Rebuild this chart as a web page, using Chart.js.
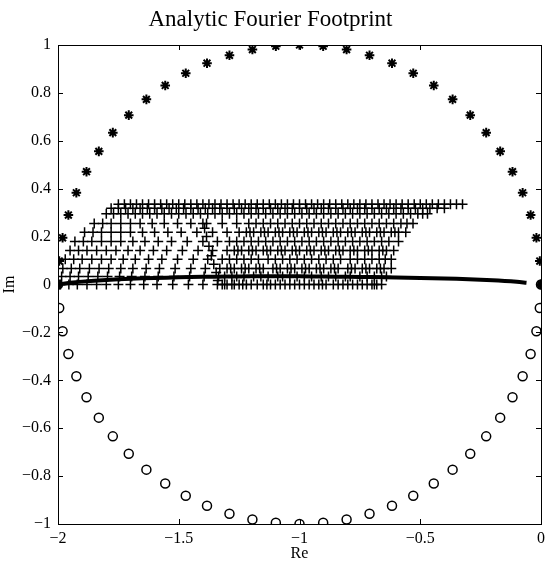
<!DOCTYPE html>
<html>
<head>
<meta charset="utf-8">
<script src="https://cdn.jsdelivr.net/npm/chart.js@4.4.1/dist/chart.umd.min.js"></script>
<style>
html,body{margin:0;padding:0;background:#fff;}
#wrap{width:550px;height:563px;position:relative;}
</style>
</head>
<body>
<div id="wrap"><canvas id="c" width="550" height="563"></canvas></div>
<script>
// ---- data ----
const xTicks = [-2, -1.5, -1, -0.5, 0];
const yTicks = [-1, -0.8, -0.6, -0.4, -0.2, 0, 0.2, 0.4, 0.6, 0.8, 1];

// circle points (upper: asterisks, lower: open circles)
const circleX = [0,-0.005,-0.019,-0.043,-0.076,-0.118,-0.169,-0.227,-0.293,-0.366,-0.444,-0.529,-0.617,-0.710,-0.805,-0.902,-1,
  -1.098,-1.195,-1.290,-1.383,-1.471,-1.556,-1.634,-1.707,-1.773,-1.831,-1.882,-1.924,-1.957,-1.981,-1.995,-2];
const upperY = [0,0.098,0.195,0.290,0.383,0.471,0.556,0.634,0.707,0.773,0.831,0.882,0.924,0.957,0.981,0.995,1,
  0.995,0.981,0.957,0.924,0.882,0.831,0.773,0.707,0.634,0.556,0.471,0.383,0.290,0.195,0.098,0];
const lowerY = [0,-0.098,-0.195,-0.290,-0.383,-0.471,-0.556,-0.634,-0.707,-0.773,-0.831,-0.882,-0.924,-0.957,-0.981,-0.995,-1,
  -0.995,-0.981,-0.957,-0.924,-0.882,-0.831,-0.773,-0.707,-0.634,-0.556,-0.471,-0.383,-0.290,-0.195,-0.098,0];

// end blobs
const endX = [-2, 0];
const endY = [0, 0];

// thick curve near the real axis
const curveX = [-2,-1.95,-1.9,-1.8,-1.7,-1.6,-1.5,-1.4,-1.3,-1.2,-1.1,-1.0,-0.9,-0.8,-0.7,-0.6,-0.5,-0.4,-0.3,-0.2,-0.15,-0.1,-0.06];
const curveY = [0,0.007,0.012,0.019,0.024,0.027,0.030,0.032,0.033,0.034,0.034,0.034,0.033,0.032,0.031,0.029,0.027,0.025,0.022,0.018,0.015,0.011,0.007];

// plus-marker footprint, one list of Re values per Im level
const plusRowY = [0, 0.033, 0.067, 0.105, 0.142, 0.18, 0.218, 0.255, 0.295, 0.318, 0.335];
const plusRowX = [
 [-1.99,-1.955,-1.92,-1.88,-1.84,-1.80,-1.75,-1.70,-1.645,-1.59,-1.525,-1.46,-1.40,-1.34,-1.32,-1.30,-1.28,-1.25,-1.22,-1.20,-1.15,-1.12,-1.10,-1.06,-1.02,-1.00,-0.96,-0.92,-0.89,-0.86,-0.82,-0.78,-0.76,-0.72,-0.70,-0.68,-0.66],
 [-1.985,-1.95,-1.915,-1.875,-1.835,-1.795,-1.745,-1.695,-1.64,-1.585,-1.52,-1.455,-1.395,-1.335,-1.31,-1.28,-1.26,-1.23,-1.19,-1.16,-1.13,-1.09,-1.07,-1.04,-1.01,-0.98,-0.95,-0.91,-0.88,-0.85,-0.81,-0.79,-0.75,-0.72,-0.69,-0.66,-0.64],
 [-1.98,-1.945,-1.91,-1.87,-1.83,-1.79,-1.74,-1.69,-1.635,-1.58,-1.515,-1.45,-1.39,-1.33,-1.30,-1.27,-1.24,-1.21,-1.18,-1.15,-1.11,-1.08,-1.05,-1.02,-0.99,-0.96,-0.93,-0.90,-0.87,-0.84,-0.80,-0.77,-0.74,-0.71,-0.68,-0.65,-0.62],
 [-1.97,-1.935,-1.90,-1.86,-1.82,-1.78,-1.73,-1.68,-1.625,-1.57,-1.505,-1.44,-1.38,-1.32,-1.29,-1.26,-1.23,-1.20,-1.17,-1.13,-1.10,-1.07,-1.04,-1.01,-0.98,-0.95,-0.92,-0.89,-0.86,-0.83,-0.79,-0.76,-0.73,-0.70,-0.67,-0.645,-0.62],
 [-1.95,-1.915,-1.88,-1.84,-1.80,-1.76,-1.71,-1.66,-1.605,-1.55,-1.485,-1.42,-1.36,-1.30,-1.27,-1.24,-1.21,-1.18,-1.15,-1.12,-1.09,-1.06,-1.03,-1.00,-0.97,-0.94,-0.91,-0.88,-0.85,-0.82,-0.79,-0.76,-0.73,-0.70,-0.67,-0.64,-0.61],
 [-1.93,-1.895,-1.86,-1.82,-1.78,-1.74,-1.69,-1.64,-1.585,-1.53,-1.465,-1.40,-1.34,-1.29,-1.26,-1.23,-1.20,-1.17,-1.14,-1.11,-1.08,-1.05,-1.02,-0.99,-0.96,-0.93,-0.90,-0.87,-0.84,-0.81,-0.78,-0.75,-0.72,-0.69,-0.66,-0.63,-0.59],
 [-1.89,-1.855,-1.82,-1.78,-1.74,-1.70,-1.65,-1.60,-1.545,-1.49,-1.425,-1.36,-1.30,-1.25,-1.22,-1.19,-1.16,-1.13,-1.10,-1.07,-1.04,-1.01,-0.98,-0.95,-0.92,-0.89,-0.86,-0.83,-0.80,-0.77,-0.74,-0.71,-0.68,-0.65,-0.62,-0.59,-0.56],
 [-1.85,-1.815,-1.78,-1.74,-1.70,-1.66,-1.61,-1.56,-1.505,-1.45,-1.385,-1.32,-1.26,-1.21,-1.18,-1.15,-1.12,-1.09,-1.06,-1.03,-1.00,-0.97,-0.94,-0.91,-0.88,-0.85,-0.82,-0.79,-0.76,-0.73,-0.70,-0.67,-0.64,-0.61,-0.58,-0.555,-0.53],
 [-1.80,-1.77,-1.74,-1.71,-1.68,-1.65,-1.62,-1.59,-1.56,-1.53,-1.50,-1.47,-1.44,-1.41,-1.38,-1.35,-1.32,-1.29,-1.26,-1.23,-1.20,-1.17,-1.14,-1.11,-1.08,-1.05,-1.02,-0.99,-0.96,-0.93,-0.90,-0.87,-0.84,-0.81,-0.78,-0.75,-0.72,-0.69,-0.66,-0.63,-0.60,-0.57,-0.54,-0.51,-0.49,-0.47],
 [-1.78,-1.75,-1.72,-1.69,-1.66,-1.63,-1.60,-1.57,-1.54,-1.51,-1.48,-1.45,-1.42,-1.39,-1.36,-1.33,-1.30,-1.27,-1.24,-1.21,-1.18,-1.15,-1.12,-1.09,-1.06,-1.03,-1.00,-0.97,-0.94,-0.91,-0.88,-0.85,-0.82,-0.79,-0.76,-0.73,-0.70,-0.67,-0.64,-0.61,-0.58,-0.55,-0.52,-0.49,-0.46,-0.43,-0.40],
 [-1.75,-1.725,-1.70,-1.675,-1.65,-1.625,-1.60,-1.575,-1.55,-1.525,-1.50,-1.475,-1.45,-1.425,-1.40,-1.375,-1.35,-1.325,-1.30,-1.275,-1.25,-1.225,-1.20,-1.175,-1.15,-1.125,-1.10,-1.075,-1.05,-1.025,-1.00,-0.975,-0.95,-0.925,-0.90,-0.875,-0.85,-0.825,-0.80,-0.775,-0.75,-0.725,-0.70,-0.675,-0.65,-0.625,-0.60,-0.575,-0.55,-0.525,-0.50,-0.475,-0.45,-0.425,-0.40,-0.375,-0.35,-0.325]
];

// extra, denser marks in the hatched middle part (Im level -> Re values)
const extraRowY = [0, 0.067, 0.142, 0.218];
const extraRowX = [
 [-1.31,-1.27,-1.235,-1.175,-1.135,-1.08,-1.04,-0.98,-0.94,-0.905,-0.84,-0.80,-0.74,-0.69],
 [-1.285,-1.225,-1.165,-1.095,-1.035,-0.975,-0.915,-0.855,-0.785,-0.725,-0.665],
 [-1.255,-1.195,-1.135,-1.075,-1.015,-0.955,-0.895,-0.835,-0.775,-0.715,-0.655],
 [-1.205,-1.145,-1.085,-1.025,-0.965,-0.905,-0.845,-0.785,-0.725,-0.665,-0.605]
];
// a diagonal streak of marks at the left of the hatched part
const streakX = [-1.40,-1.393,-1.385,-1.375,-1.365,-1.355,-1.345,-1.338];
const streakY = [0.255,0.235,0.20,0.16,0.12,0.085,0.05,0.017];

// ---- build library tables ----
const pts = (xs, ys) => xs.map((x, i) => ({x: x, y: ys[i]}));
const plusPts = [];
plusRowY.forEach((y, r) => plusRowX[r].forEach(x => plusPts.push({x: x, y: y})));
extraRowY.forEach((y, r) => extraRowX[r].forEach(x => plusPts.push({x: x, y: y})));
streakX.forEach((x, i) => plusPts.push({x: x, y: streakY[i]}));

const fmt = v => {
  const s = String(Math.round(v * 10) / 10);
  return s.replace('-', '\u2212');
};

const SERIF = '"Liberation Serif", "Times New Roman", serif';

const boxTicks = {
  id: 'boxTicks',
  afterDatasetsDraw(chart) {
    const {ctx, chartArea: a, scales} = chart;
    ctx.save();
    ctx.strokeStyle = '#000';
    ctx.lineWidth = 1;
    ctx.strokeRect(Math.round(a.left) + 0.5, Math.round(a.top) + 0.5, Math.round(a.right - a.left), Math.round(a.bottom - a.top));
    const L = 5;
    ctx.beginPath();
    xTicks.forEach(v => {
      const px = Math.round(scales.x.getPixelForValue(v)) + 0.5;
      ctx.moveTo(px, a.bottom); ctx.lineTo(px, a.bottom - L);
      ctx.moveTo(px, a.top); ctx.lineTo(px, a.top + L);
    });
    yTicks.forEach(v => {
      const py = Math.round(scales.y.getPixelForValue(v)) + 0.5;
      ctx.moveTo(a.left, py); ctx.lineTo(a.left + L, py);
      ctx.moveTo(a.right, py); ctx.lineTo(a.right - L, py);
    });
    ctx.stroke();
    ctx.restore();
  }
};

new Chart(document.getElementById('c'), {
  type: 'scatter',
  data: {
    datasets: [
      {
        label: 'footprint',
        data: plusPts,
        pointStyle: 'cross',
        pointRadius: 5,
        borderColor: '#000',
        backgroundColor: '#000',
        borderWidth: 1.5
      },
      {
        label: 'curve',
        data: pts(curveX, curveY),
        showLine: true,
        borderColor: '#000',
        borderWidth: 4,
        pointRadius: 0,
        tension: 0.3
      },
      {
        label: 'upper',
        data: pts(circleX, upperY),
        pointStyle: 'star',
        pointRadius: 4.8,
        borderColor: '#000',
        backgroundColor: '#000',
        borderWidth: 2
      },
      {
        label: 'lower',
        data: pts(circleX, lowerY),
        pointStyle: 'circle',
        pointRadius: 4.5,
        borderColor: '#000',
        backgroundColor: 'rgba(0,0,0,0)',
        borderWidth: 1.5
      },
      {
        label: 'ends',
        data: pts(endX, endY),
        pointStyle: 'rect',
        pointRadius: 4.5,
        borderColor: '#000',
        backgroundColor: '#000',
        borderWidth: 1
      }
    ]
  },
  options: {
    responsive: false,
    animation: false,
    events: [],
    layout: {padding: {left: 0, right: 9, top: 0, bottom: 0}},
    plugins: {
      legend: {display: false},
      tooltip: {enabled: false},
      title: {
        display: true,
        text: 'Analytic Fourier Footprint',
        color: '#000',
        font: {family: SERIF, size: 23, weight: 'normal'},
        padding: {top: 6, bottom: 11.4}
      }
    },
    scales: {
      x: {
        type: 'linear',
        min: -2, max: 0,
        afterBuildTicks: s => { s.ticks = xTicks.map(v => ({value: v})); },
        afterFit: s => { s.height = 39; },
        grid: {display: false, drawTicks: false},
        border: {display: false},
        ticks: {color: '#000', font: {family: SERIF, size: 16}, padding: 5, maxRotation: 0, callback: v => fmt(v)},
        title: {display: true, text: 'Re', color: '#000', font: {family: SERIF, size: 16}, padding: {top: 0, bottom: 0}}
      },
      y: {
        type: 'linear',
        min: -1, max: 1,
        afterBuildTicks: s => { s.ticks = yTicks.map(v => ({value: v})); },
        afterFit: s => { s.width = 58; },
        grid: {display: false, drawTicks: false},
        border: {display: false},
        ticks: {color: '#000', font: {family: SERIF, size: 16}, padding: 7, callback: v => fmt(v)},
        title: {display: true, text: 'Im', color: '#000', font: {family: SERIF, size: 16}, padding: {top: 0, bottom: 0}}
      }
    }
  },
  plugins: [boxTicks]
});
</script>
</body>
</html>
